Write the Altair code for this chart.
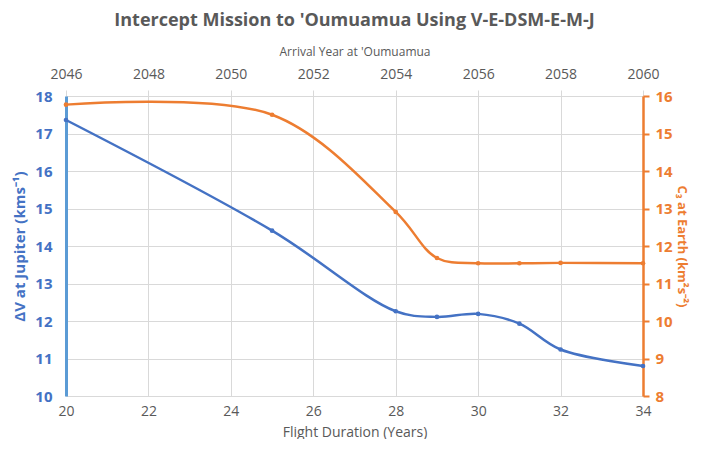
import altair as alt
import pandas as pd

duration = [20, 25, 28, 29, 30, 31, 32, 34]
delta_v = [17.36, 14.41, 12.26, 12.11, 12.19, 11.93, 11.24, 10.80]
c3 = [15.77, 15.50, 12.91, 11.68, 11.54, 11.54, 11.55, 11.54]
years = [2046, 2048, 2050, 2052, 2054, 2056, 2058, 2060]

df = pd.DataFrame({"duration": duration, "dv": delta_v, "c3": c3})
df_years = pd.DataFrame({"year": years})

BLUE = "#4472C4"
ORANGE = "#ED7D31"
GREY = "#595959"
GRID = "#D9D9D9"
FONT = "Open Sans"

x_bottom = alt.X(
    "duration:Q",
    scale=alt.Scale(domain=[20, 34], nice=False),
    axis=alt.Axis(
        orient="bottom", values=list(range(20, 35, 2)), title="Flight Duration (Years)",
        titleColor=GREY, titleFontSize=14, titleFontWeight="normal", titleFont=FONT,
        labelColor=GREY, labelFontSize=14, labelFont=FONT, ticks=False, domain=True,
        domainColor=GRID, grid=True, gridColor=GRID, titlePadding=7, labelPadding=8,
        labelFlush=False,
    ),
)

blue = alt.Chart(df).mark_line(
    color=BLUE, strokeWidth=2.5, interpolate="catmull-rom",
    point=alt.OverlayMarkDef(color=BLUE, size=22, filled=True),
).encode(
    x=x_bottom,
    y=alt.Y(
        "dv:Q",
        scale=alt.Scale(domain=[10, 18], nice=False),
        axis=alt.Axis(
            orient="left", values=list(range(10, 19)), title="ΔV at Jupiter (kms⁻¹)",
            titleColor=BLUE, titleFontSize=15, titleFontWeight="bold", titleFont=FONT,
            labelColor=BLUE, labelFontSize=15, labelFontWeight="bold", labelFont=FONT,
            ticks=False, domainColor="#5B9BD5", domainWidth=3, grid=True, gridColor=GRID,
            labelPadding=14, titlePadding=7,
        ),
    ),
)

orange = alt.Chart(df).mark_line(
    color=ORANGE, strokeWidth=2.5, interpolate="catmull-rom",
    point=alt.OverlayMarkDef(color=ORANGE, size=22, filled=True),
).encode(
    x=alt.X("duration:Q", scale=alt.Scale(domain=[20, 34], nice=False), axis=None),
    y=alt.Y(
        "c3:Q",
        scale=alt.Scale(domain=[8, 16], nice=False),
        axis=alt.Axis(
            orient="right", values=list(range(8, 17)), title="C₃ at Earth (km²s⁻²)",
            titleColor=ORANGE, titleFontSize=13, titleFontWeight="bold", titleFont=FONT,
            labelColor=ORANGE, labelFontSize=15, labelFontWeight="bold", labelFont=FONT,
            ticks=True, tickColor=ORANGE, tickSize=6, tickWidth=2, domainColor=ORANGE,
            domainWidth=2.5, grid=False, labelPadding=6, titlePadding=2,
        ),
    ),
)

top = alt.Chart(df_years).mark_point(opacity=0).encode(
    x=alt.X(
        "year:Q",
        scale=alt.Scale(domain=[2046, 2060], nice=False),
        axis=alt.Axis(
            orient="top", values=years, title="Arrival Year at 'Oumuamua", format="d",
            titleColor=GREY, titleFontSize=12, titleFontWeight="normal", titleFont=FONT,
            labelColor=GREY, labelFontSize=14, labelFont=FONT, ticks=True,
            tickColor=GRID, tickSize=6, tickWidth=1,
            domain=False, grid=False, titlePadding=9, labelPadding=9, labelFlush=False,
        ),
    ),
    y=alt.value(0),
)

chart = alt.layer(blue, orange, top).resolve_scale(
    x="independent", y="independent"
).properties(
    width=577, height=300,
    padding={"left": 4, "top": 4, "right": 3, "bottom": 0},
    title=alt.TitleParams(
        "Intercept Mission to 'Oumuamua Using V-E-DSM-E-M-J",
        fontSize=18, fontWeight="bold", color=GREY, font=FONT, offset=15,
    ),
).configure_view(stroke=None).configure(background="white")

chart.save("out.html", embed_options={"renderer": "svg", "actions": False})
